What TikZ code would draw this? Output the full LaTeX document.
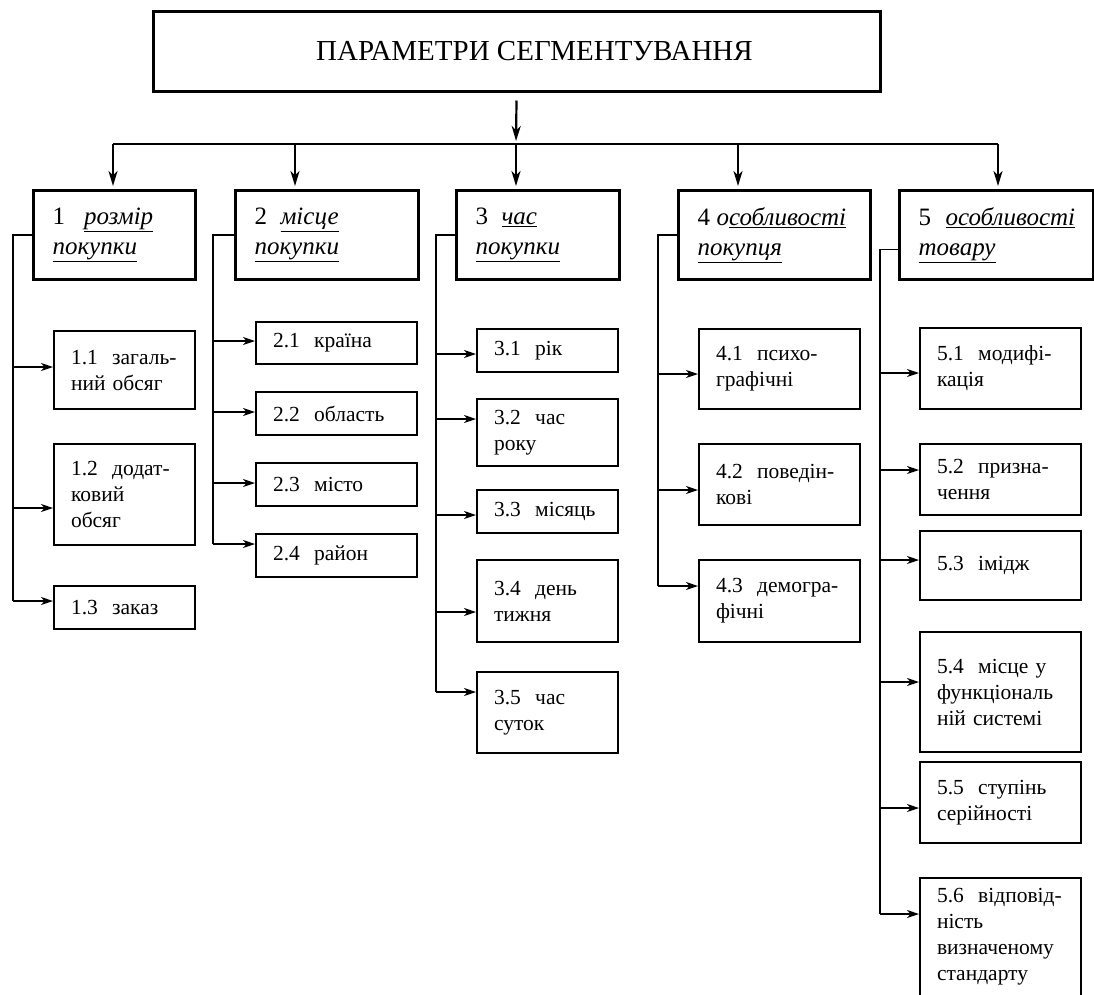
\documentclass[tikz,border=0pt]{standalone}
\usepackage{fontspec}
\setmainfont{Liberation Serif}
\usetikzlibrary{arrows.meta, positioning}

\tikzset{
  link/.style={line width=1.6pt},
  arr/.style={link, -{Stealth[length=12pt, width=8pt, inset=3.5pt]}},
  downarr/.style={line width=2.2pt, -{Stealth[length=15pt, width=9pt, inset=4.5pt]}, shorten >=3pt},
  busline/.style={line width=2.6pt},
  headbox/.style={draw, line width=3pt, inner sep=0pt, minimum width=727pt, minimum height=80pt,
    font=\fontsize{29}{34}\selectfont},
  catbox/.style={draw, line width=3pt, anchor=north west, align=left, inner sep=0pt,
    minimum height=89pt, font=\fontsize{25}{30}\selectfont},
  subbox/.style={draw, line width=2pt, anchor=north west, align=left, inner sep=0pt,
    font=\fontsize{21.5}{26}\selectfont},
  narrow/.style={minimum width=141pt, text width=107pt},
  wide/.style={minimum width=161pt, text width=127pt},
}

\begin{document}
\begin{tikzpicture}[x=1pt, y=-1pt]
\useasboundingbox (0,0) rectangle (1094,994);

% Title
\node[headbox] (title) at (516.5,51) {\raisebox{-4pt}{\hspace*{36pt}ПАРАМЕТРИ СЕГМЕНТУВАННЯ}};

% Bus
\coordinate (d1) at (113,144);
\coordinate (d2) at (295,144);
\coordinate (d3) at (516,144);
\coordinate (d4) at (738,144);
\coordinate (d5) at (998,144);
\draw[downarr] ([yshift=-8pt]title.south) -- (d3);
\draw[busline] (d1) -- (d5);

% Groups
\node[catbox, minimum width=162pt, text width=124pt] (c1) at (32,189)
  {\mbox{1\hspace{19pt}\underline{\textit{розмір}}}\\\underline{\textit{покупки}}};
\node[catbox, minimum width=183pt, text width=145pt] (c2) at (234,189)
  {\mbox{2\hspace{13.5pt}\underline{\textit{місце}}}\\\underline{\textit{покупки}}};
\node[catbox, minimum width=163pt, text width=125pt] (c3) at (455,189)
  {\mbox{3\hspace{13.5pt}\underline{\textit{час}}}\\\underline{\textit{покупки}}};
\node[catbox, minimum width=192pt, text width=154pt] (c4) at (677,189)
  {\mbox{4\hspace{6.5pt}\textit{о\underline{собливості}}}\\\underline{\textit{покупця}}};
\node[catbox, minimum width=194pt, text width=156pt] (c5) at (898,189)
  {\mbox{5\hspace{14.5pt}\underline{\textit{особливості}}}\\\underline{\textit{товару}}};

\foreach \i in {1,...,5}
  \draw[downarr] (d\i) -- (d\i |- c\i.north);

% Group 1
\node[subbox, narrow, minimum height=78pt] (b11) at (53,330) {1.1~~загаль-\\ний~обсяг};
\node[subbox, narrow, minimum height=101pt] (b12) at (53,443) {1.2~~додат-\\ковий\\обсяг};
\node[subbox, narrow, minimum height=43pt] (b13) at (53,585) {1.3~~заказ};

% Group 2
\node[subbox, wide, minimum height=42pt] (b21) at (255,321) {2.1~~країна};
\node[subbox, wide, minimum height=43pt] (b22) at (255,391) {2.2~~область};
\node[subbox, wide, minimum height=43pt] (b23) at (255,462) {2.3~~місто};
\node[subbox, wide, minimum height=43pt] (b24) at (255,533) {2.4~~район};

% Group 3
\node[subbox, narrow, minimum height=43pt] (b31) at (476,328) {3.1~~рік};
\node[subbox, narrow, minimum height=67pt] (b32) at (476,398) {3.2~~час\\року};
\node[subbox, narrow, minimum height=43pt] (b33) at (476,489) {3.3~~місяць};
\node[subbox, narrow, minimum height=82pt] (b34) at (476,559) {3.4~~день\\тижня};
\node[subbox, narrow, minimum height=81pt] (b35) at (476,671) {3.5~~час\\суток};

% Group 4
\node[subbox, wide, minimum height=80pt] (b41) at (698,328) {4.1~~психо-\\графічні};
\node[subbox, wide, minimum height=81pt] (b42) at (698,443) {4.2~~поведін-\\кові};
\node[subbox, wide, minimum height=82pt] (b43) at (698,559) {4.3~~демогра-\\фічні};

% Group 5
\node[subbox, wide, minimum height=81pt] (b51) at (919,327) {5.1~~модифі-\\кація};
\node[subbox, wide, minimum height=71pt] (b52) at (919,443) {5.2~~призна-\\чення};
\node[subbox, wide, minimum height=69pt] (b53) at (919,530) {5.3~~імідж};
\node[subbox, wide, minimum height=120pt] (b54) at (919,631) {5.4~~місце~у\\функціональ\\ній~системі};
\node[subbox, wide, minimum height=81pt] (b55) at (919,761) {5.5~~ступінь\\серійності};
\node[subbox, wide, minimum height=118pt] (b56) at (919,877) {5.6~~відповід-\\ність\\визначеному\\стандарту};

% Trunks
\coordinate (t1) at (13,0);
\coordinate (t2) at (213,0);
\coordinate (t3) at (436,0);
\coordinate (t4) at (658,0);
\coordinate (t5) at (880,0);
\draw[link] (c1.west) -| ([yshift=6.5pt]b13.west -| t1);
\draw[link] (c2.west) -| ([yshift=11.5pt]b24.west -| t2);
\draw[link] (c3.west) -| ([yshift=20.5pt]b35.west -| t3);
\draw[link] (c4.west) -| ([yshift=15pt]b43.west -| t4);
\draw[link] ([yshift=-14.5pt]c5.west) -| ([yshift=23pt]b56.west -| t5);

% Branch arrows
\foreach \b/\t/\dy in {b11/t1/3, b12/t1/-13.5, b13/t1/6.5,
    b21/t2/2, b22/t2/1.5, b23/t2/1.5, b24/t2/11.5,
    b31/t3/-3.5, b32/t3/13.5, b33/t3/-3.5, b34/t3/-11, b35/t3/20.5,
    b41/t4/-5, b42/t4/-5.5, b43/t4/15,
    b51/t5/-4.5, b52/t5/9.5, b53/t5/5.5, b54/t5/10, b55/t5/-5.5, b56/t5/23}
  \draw[arr] ([yshift=\dy pt]\b.west -| \t) -- ([yshift=\dy pt]\b.west);
\end{tikzpicture}
\end{document}
